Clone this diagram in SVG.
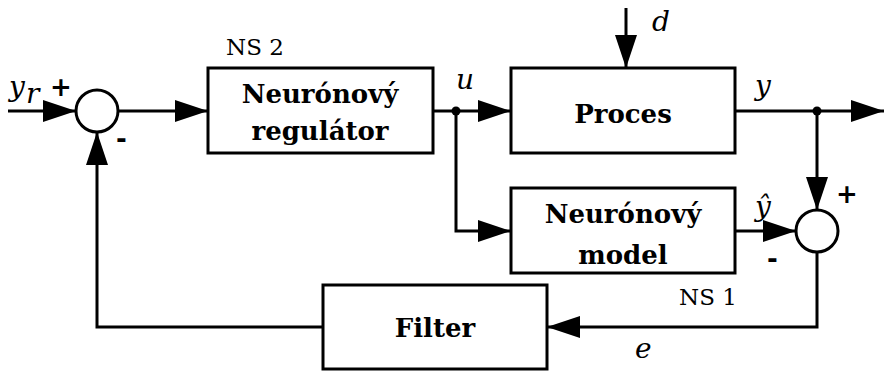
<svg xmlns="http://www.w3.org/2000/svg" width="884" height="372" viewBox="0 0 884 372">
<style>
.box{fill:#fff;stroke:#000;stroke-width:3}
.ln{fill:none;stroke:#000;stroke-width:3}
.arr{fill:none;stroke:#000;stroke-width:3;marker-end:url(#ah)}
.bt{font-family:"DejaVu Serif",serif;font-weight:bold;font-size:26px;text-anchor:middle}
.rm{font-family:"DejaVu Serif",serif;font-size:23px}
.it{font-family:"DejaVu Serif",serif;font-style:italic;font-size:28px}
.sg{font-family:"DejaVu Sans",sans-serif;font-weight:bold;font-size:26px}
</style>
<defs>
<marker id="ah" markerUnits="userSpaceOnUse" markerWidth="34" markerHeight="24" refX="33" refY="11" orient="auto">
<path d="M0,0 L33,11 L0,22 Z" fill="#000"/>
</marker>
</defs>
<rect width="884" height="372" fill="#fff"/>
<g id="connectors">
<line class="arr" x1="8" y1="111" x2="76" y2="111"/>
<line class="arr" x1="118" y1="111" x2="208" y2="111"/>
<line class="arr" x1="433" y1="111" x2="511" y2="111"/>
<polyline class="arr" points="456,111 456,231 511,231"/>
<line class="arr" x1="626" y1="8" x2="626" y2="68"/>
<line class="arr" x1="735" y1="111" x2="884" y2="111"/>
<line class="arr" x1="817" y1="111" x2="817" y2="210"/>
<line class="arr" x1="735" y1="231" x2="796" y2="231"/>
<polyline class="arr" points="817,252 817,327 547,327"/>
<polyline class="arr" points="323,327 97,327 97,132"/>
<circle cx="456" cy="111" r="4.5" fill="#000"/>
<circle cx="817" cy="111" r="4.5" fill="#000"/>
</g>
<g id="sum1">
<circle class="box" cx="97" cy="111" r="21"/>
<text class="sg" x="50" y="96">+</text>
<text class="sg" x="116" y="148">-</text>
</g>
<g id="ns2">
<rect class="box" x="208" y="68" width="225" height="85"/>
<text class="bt" x="320" y="103">Neurónový</text>
<text class="bt" x="320" y="140">regulátor</text>
<text class="rm" x="226" y="55">NS 2</text>
</g>
<g id="proces">
<rect class="box" x="511" y="68" width="224" height="85"/>
<text class="bt" x="623" y="123">Proces</text>
</g>
<g id="model">
<rect class="box" x="511" y="188" width="224" height="85"/>
<text class="bt" x="623" y="223">Neurónový</text>
<text class="bt" x="623" y="264">model</text>
<text class="rm" x="679" y="305">NS 1</text>
</g>
<g id="sum2">
<circle class="box" cx="817" cy="231" r="21"/>
<text class="sg" x="836" y="203">+</text>
<text class="sg" x="767" y="268">-</text>
</g>
<g id="filter">
<rect class="box" x="323" y="285" width="224" height="84"/>
<text class="bt" x="435" y="337">Filter</text>
</g>
<g id="labels">
<text class="it" x="9" y="96">y</text>
<text class="it" x="26" y="103" font-size="20">r</text>
<text class="it" x="456" y="89">u</text>
<text class="it" x="652" y="31">d</text>
<text class="it" x="755" y="95">y</text>
<text class="it" x="755" y="216">ŷ</text>
<text class="it" x="635" y="358">e</text>
</g>
</svg>
